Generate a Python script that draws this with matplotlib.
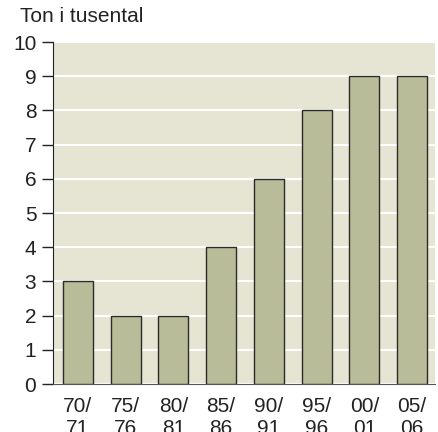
import matplotlib.pyplot as plt

plt.rcParams['font.family'] = ['Liberation Sans', 'DejaVu Sans']

categories = ["70/\n71", "75/\n76", "80/\n81", "85/\n86", "90/\n91", "95/\n96", "00/\n01", "05/\n06"]
values = [3, 2, 2, 4, 6, 8, 9, 9]

fig = plt.figure(figsize=(4.39, 4.32), dpi=100)
ax = fig.add_axes([53 / 439, 48 / 432, 382 / 439, 342 / 432])
ax.set_facecolor("#E6E4D3")

x = range(len(values))
ax.bar(x, values, width=0.63, color="#B8BC98", edgecolor="#2b2b2b", linewidth=1.0, zorder=3)

ax.set_ylim(0, 10)
ax.set_xlim(-0.52, 7.48)
ax.set_yticks(range(0, 11))
ax.yaxis.grid(True, color="white", linewidth=1.5, zorder=1)
ax.set_axisbelow(True)

ax.set_xticks(list(x))
ax.set_xticklabels(categories, linespacing=1.25)
ax.tick_params(axis="x", length=0, pad=9, labelsize=15, colors="#222222")
ax.tick_params(axis="y", length=8, width=1, pad=4, labelsize=15, colors="#222222")

for s in ["top", "right"]:
    ax.spines[s].set_visible(False)
ax.spines["left"].set_color("#222222")
ax.spines["bottom"].set_color("#555555")

fig.text(20 / 439, 1 - 17 / 432, "Ton i tusental", fontsize=15, color="#222222", va="center", ha="left")

fig.savefig("out.png", dpi=100)
